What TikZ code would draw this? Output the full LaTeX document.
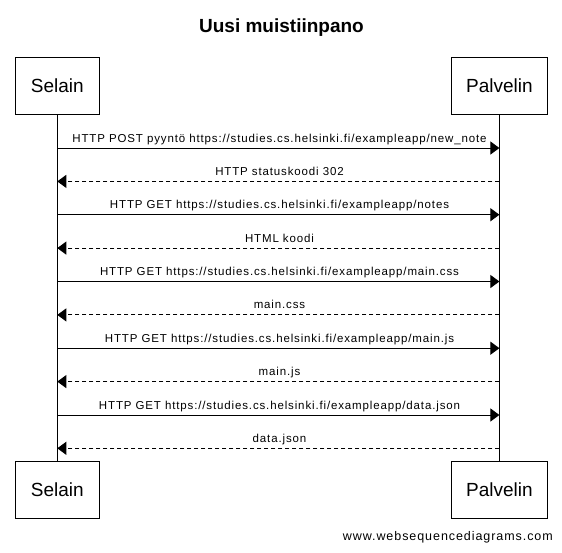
\documentclass[tikz,border=0pt]{standalone}
\usepackage{fontspec}
\setmainfont{Liberation Sans}
\newfontfamily\lblfont[LetterSpace=7.5]{Liberation Sans}
\usetikzlibrary{arrows.meta}
\begin{document}
\begin{tikzpicture}[x=1pt,y=-1pt,
  actor/.style={draw, line width=1pt, minimum height=57pt, inner sep=0pt, font=\fontsize{19}{22}\selectfont},
  life/.style={line width=1pt},
  msg/.style={line width=1pt, -{Triangle[length=9pt,width=13pt]}},
  reply/.style={msg, dash pattern=on 4pt off 3pt},
  lbl/.style={anchor=base, inner sep=0pt, font=\lblfont\fontsize{11.5}{13}\selectfont},
  wmark/.style={anchor=base east, inner sep=0pt, font=\lblfont\fontsize{12.5}{14}\selectfont}]
\useasboundingbox (0,0) rectangle (562,552);
\node[font=\bfseries\fontsize{19}{22}\selectfont, anchor=base, inner sep=0pt] (title) at (281.5,32) {Uusi muistiinpano};
\node[actor, minimum width=83.5pt] (sT) at (57.3,85.5) {Selain};
\node[actor, minimum width=96pt] (pT) at (499.4,85.5) {Palvelin};
\node[actor, minimum width=83.5pt] (sB) at (57.3,489.75) {Selain};
\node[actor, minimum width=96pt] (pB) at (499.4,489.75) {Palvelin};
\draw[life] (sT.south) -- (sB.north);
\draw[life] (pT.south) -- (pB.north);
% message rows
\coordinate (s1) at (57.3,148.0);   \coordinate (p1) at (499.4,148.0);
\coordinate (s2) at (57.3,181.4);   \coordinate (p2) at (499.4,181.4);
\coordinate (s3) at (57.3,214.7);   \coordinate (p3) at (499.4,214.7);
\coordinate (s4) at (57.3,248.1);   \coordinate (p4) at (499.4,248.1);
\coordinate (s5) at (57.3,281.5);   \coordinate (p5) at (499.4,281.5);
\coordinate (s6) at (57.3,314.9);   \coordinate (p6) at (499.4,314.9);
\coordinate (s7) at (57.3,348.2);   \coordinate (p7) at (499.4,348.2);
\coordinate (s8) at (57.3,381.6);   \coordinate (p8) at (499.4,381.6);
\coordinate (s9) at (57.3,415.0);   \coordinate (p9) at (499.4,415.0);
\coordinate (s10) at (57.3,448.3);  \coordinate (p10) at (499.4,448.3);
\draw[msg] (s1) -- (p1);
\draw[reply] (p2) -- (s2);
\draw[msg] (s3) -- (p3);
\draw[reply] (p4) -- (s4);
\draw[msg] (s5) -- (p5);
\draw[reply] (p6) -- (s6);
\draw[msg] (s7) -- (p7);
\draw[reply] (p8) -- (s8);
\draw[msg] (s9) -- (p9);
\draw[reply] (p10) -- (s10);
\node[lbl] (l1) at (279.5,142.0) {HTTP POST pyyntö https://studies.cs.helsinki.fi/exampleapp/new\_note};
\node[lbl] (l2) at (279.5,175.4) {HTTP statuskoodi 302};
\node[lbl] (l3) at (279.5,208.7) {HTTP GET https://studies.cs.helsinki.fi/exampleapp/notes};
\node[lbl] (l4) at (279.5,242.1) {HTML koodi};
\node[lbl] (l5) at (279.5,275.5) {HTTP GET https://studies.cs.helsinki.fi/exampleapp/main.css};
\node[lbl] (l6) at (279.5,308.9) {main.css};
\node[lbl] (l7) at (279.5,342.2) {HTTP GET https://studies.cs.helsinki.fi/exampleapp/main.js};
\node[lbl] (l8) at (279.5,375.6) {main.js};
\node[lbl] (l9) at (279.5,409.0) {HTTP GET https://studies.cs.helsinki.fi/exampleapp/data.json};
\node[lbl] (l10) at (279.5,442.3) {data.json};
\node[wmark] (wm) at (553,540) {www.websequencediagrams.com};
\end{tikzpicture}
\end{document}
